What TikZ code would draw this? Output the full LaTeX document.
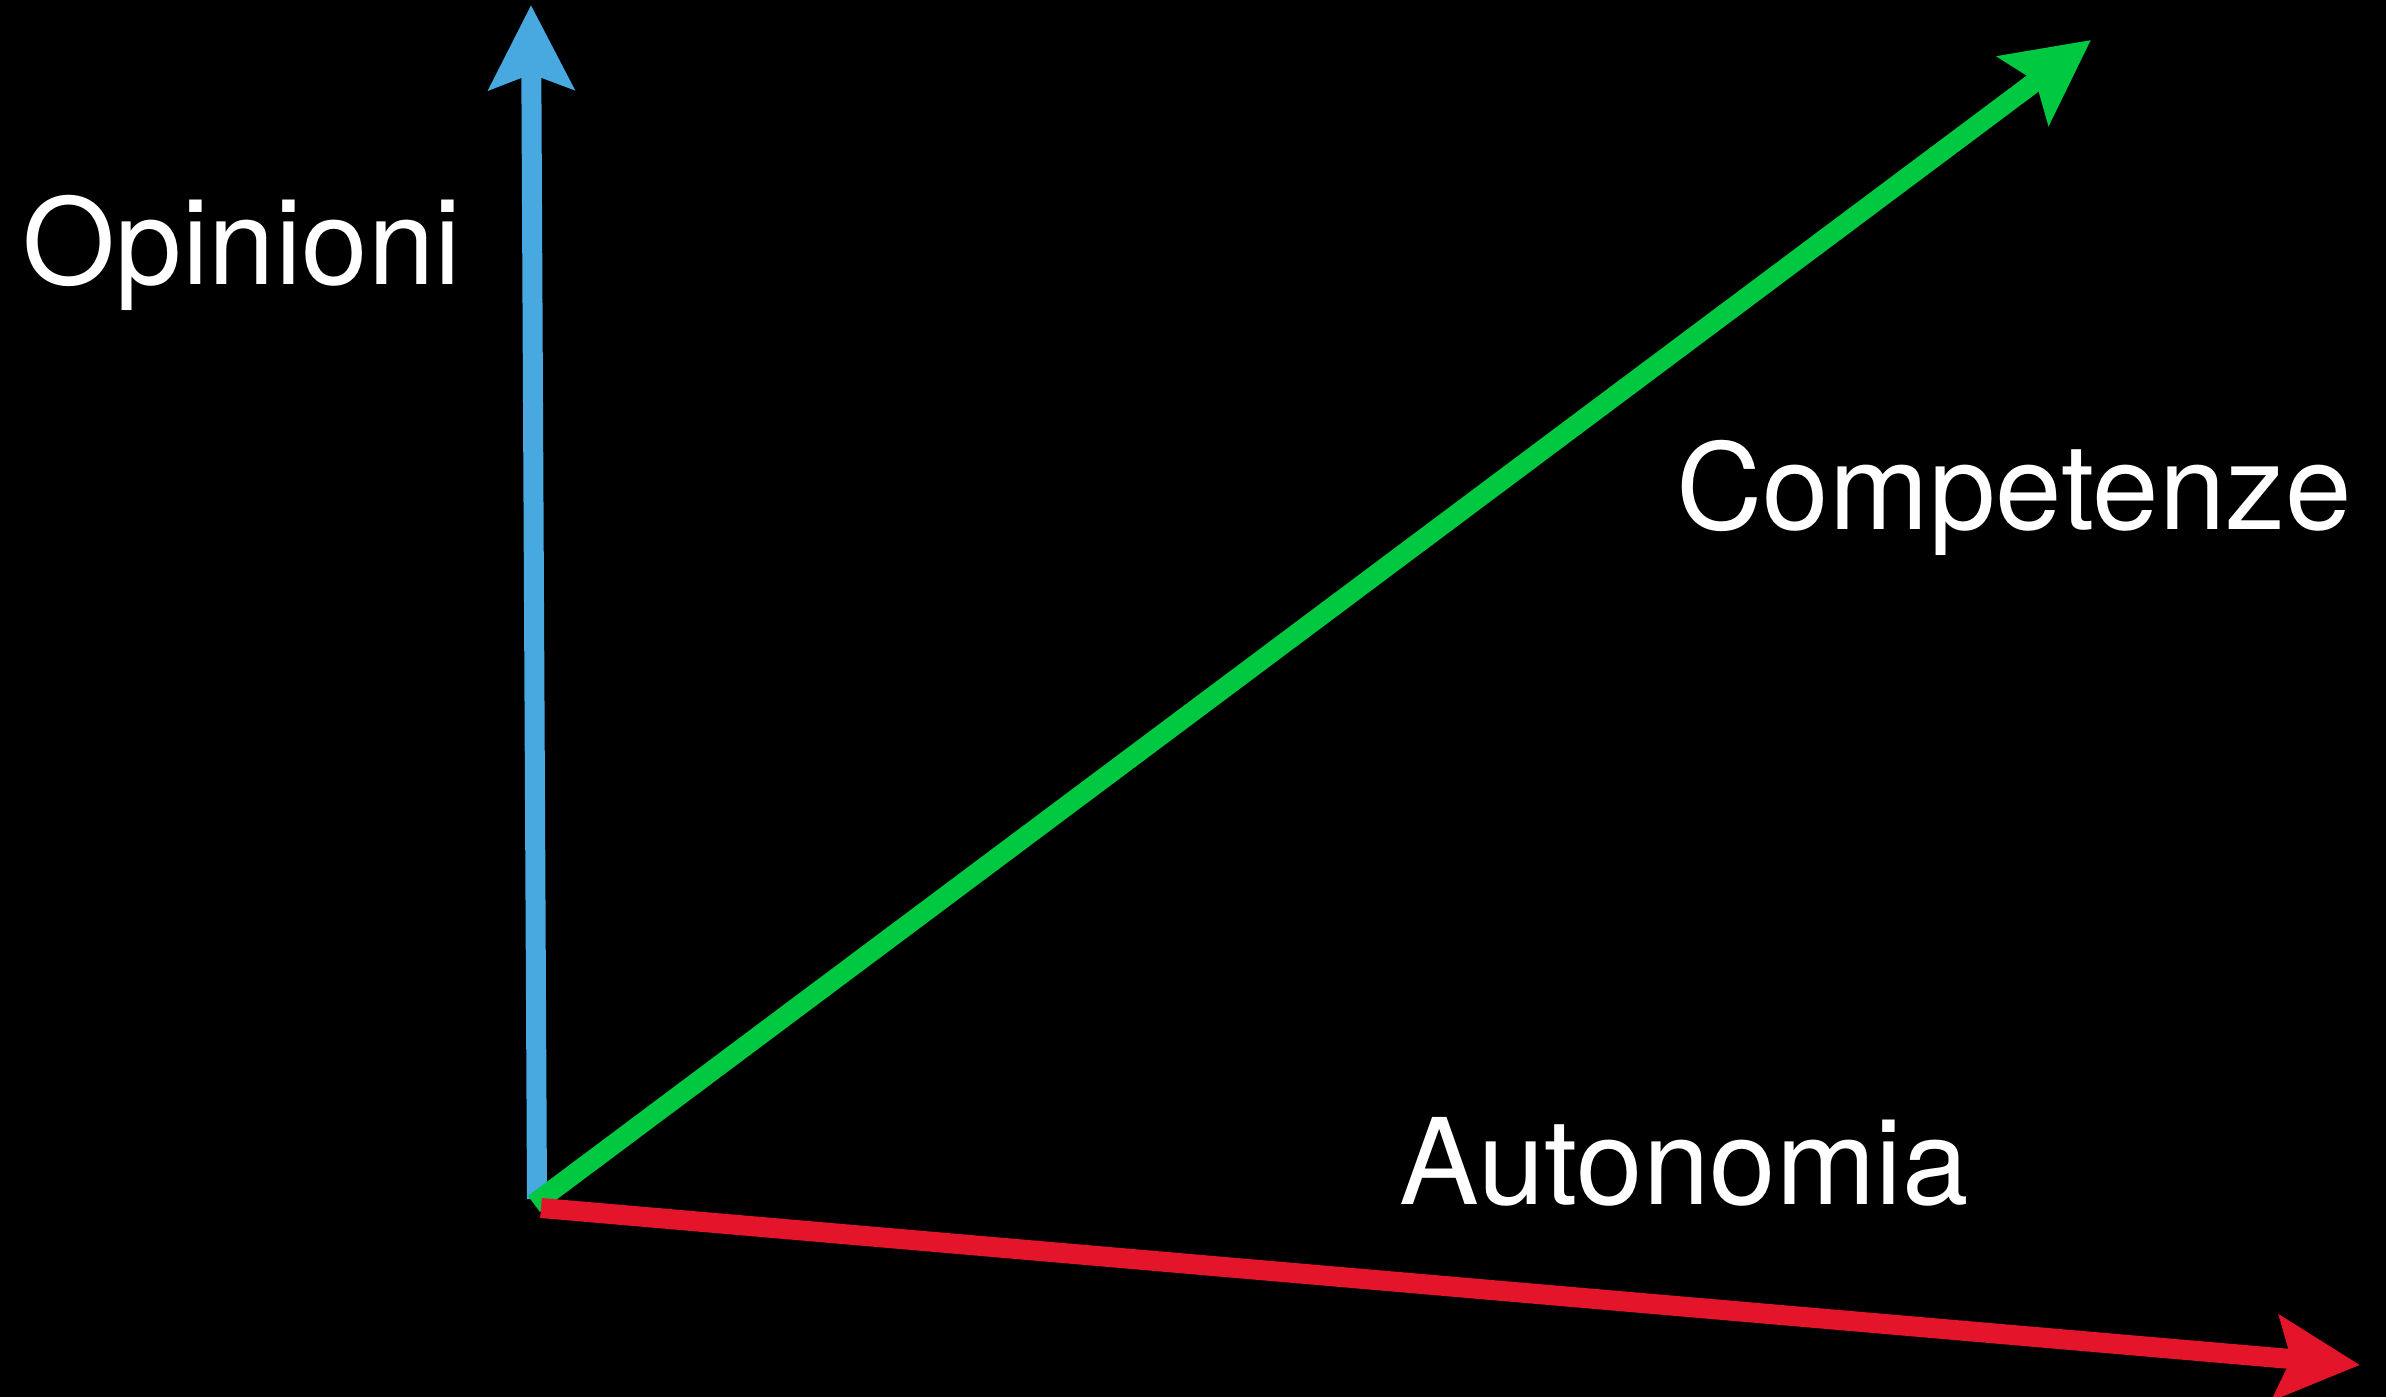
\documentclass[tikz,border=0pt]{standalone}
\usepackage{fontspec}
\setmainfont{TeX Gyre Heros}
\usetikzlibrary{arrows.meta}
\definecolor{axisblue}{RGB}{72,168,224}
\definecolor{axisgreen}{RGB}{0,200,64}
\definecolor{axisred}{RGB}{228,20,42}
\tikzset{axis arrow/.style={line width=0.2cm,-{Stealth[length=0.84cm,width=0.84cm,inset=0.15cm]}},
  axis label/.style={text=white,inner sep=0pt,anchor=base,font=\fontsize{34}{40}\selectfont},}

\begin{document}
\begin{tikzpicture}
  \useasboundingbox (0,0) rectangle (23.86,13.97);
  \fill[black] (-0.2,-0.2) rectangle (24.06,14.17);
  %% Nodes
  \coordinate (oB) at (5.37,1.98);
  \coordinate (tB) at (5.31,13.92);
  \coordinate (oG) at (5.34,1.93);
  \coordinate (tG) at (20.91,13.57);
  \coordinate (oR) at (5.41,1.89);
  \coordinate (tR) at (23.60,0.32);
  \node[axis label] (opinioni) at (2.42,11.12) {Opinioni};
  \node[axis label] (competenze) at (20.14,8.67) {Competenze};
  \node[axis label] (autonomia) at (16.84,1.92) {Autonomia};
  %% Paths
  \draw[axis arrow,axisblue] (oB) -- (tB);
  \draw[axis arrow,axisgreen] (oG) -- (tG);
  \draw[axis arrow,axisred] (oR) -- (tR);
\end{tikzpicture}
\end{document}
